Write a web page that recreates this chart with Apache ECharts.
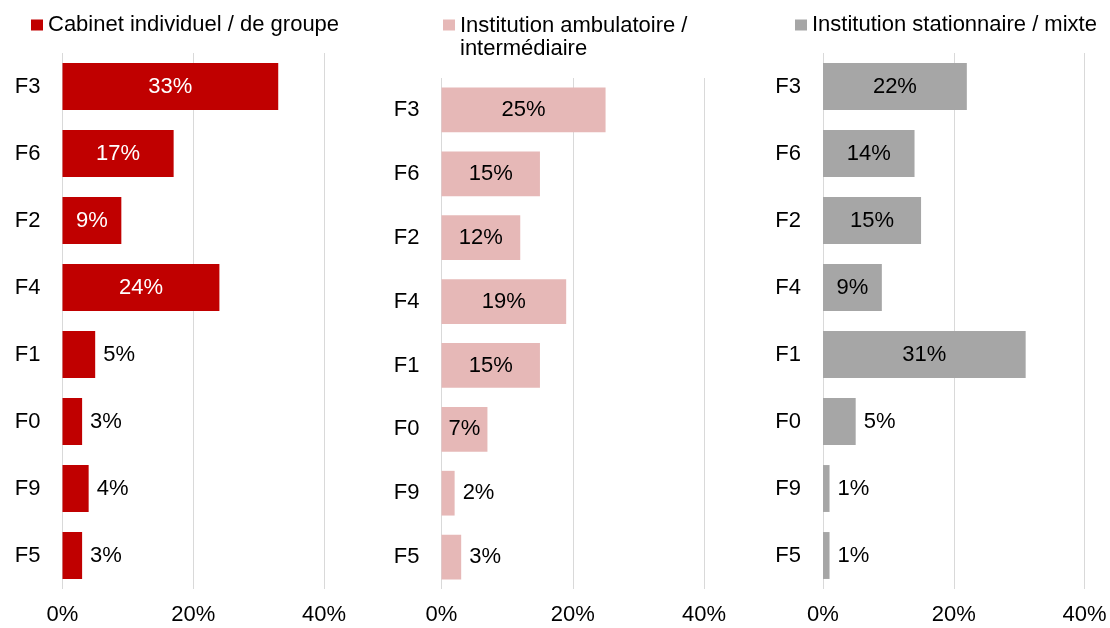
<!DOCTYPE html>
<html>
<head>
<meta charset="utf-8">
<script src="https://cdn.jsdelivr.net/npm/echarts@6/dist/echarts.min.js"></script>
<style>
  html, body { margin: 0; padding: 0; background: #fff; }
  #chart { width: 1110px; height: 628px; }
</style>
</head>
<body>
<div id="chart"></div>
<script>
// categories, top to bottom
const categories = ["F3", "F6", "F2", "F4", "F1", "F0", "F9", "F5"];
const xTicks = [0, 20, 40];

// shares in %
const cabinet = [33, 17, 9, 24, 5, 3, 4, 3];
const ambulatoire = [25, 15, 12, 19, 15, 7, 2, 3];
const stationnaire = [22, 14, 15, 9, 31, 5, 1, 1];

const seriesNames = [
  "Cabinet individuel / de groupe",
  "Institution ambulatoire / intermédiaire",
  "Institution stationnaire / mixte",
];
const colors = ["#c00000", "#e6b8b7", "#a6a6a6"];
const insideLabelColors = ["#ffffff", "#000000", "#000000"];

const FONT = "Liberation Sans, Arial, sans-serif";
const FS = 22;

const grids = [
  { left: 62.5, width: 261.5, top: 53, bottom: 39 },
  { left: 441.5, width: 262.5, top: 78, bottom: 39 },
  { left: 823, width: 261.5, top: 53, bottom: 39 },
];
const legendLefts = [31, 443, 795];

const values = [cabinet, ambulatoire, stationnaire];

const chart = echarts.init(document.getElementById("chart"));

// the middle legend wraps on two lines, its square stays on the first line
const legends = seriesNames.map((name, i) => {
  const twoLines = i === 1;
  return {
    data: [name],
    left: legendLefts[i],
    top: twoLines ? 14 : 13,
    padding: 0,
    icon: twoLines ? "path://M0,0h12v11h-12z M0,36" : "rect",
    itemWidth: 12,
    itemHeight: twoLines ? 36 : 11,
    formatter: (n) => (twoLines ? "Institution ambulatoire /\nintermédiaire" : n),
    textStyle: { fontFamily: FONT, fontSize: FS, color: "#000", lineHeight: twoLines ? 23.5 : 24 },
  };
});

const option = {
  animation: false,
  textStyle: { fontFamily: FONT },
  grid: grids,
  legend: legends,
  xAxis: grids.map((g, i) => ({
    type: "value",
    gridIndex: i,
    min: xTicks[0],
    max: xTicks[xTicks.length - 1],
    interval: xTicks[1] - xTicks[0],
    axisLine: { show: false },
    axisTick: { show: false },
    splitLine: { lineStyle: { color: "#d9d9d9", width: 1 } },
    axisLabel: {
      formatter: "{value}%",
      fontFamily: FONT,
      fontSize: FS,
      color: "#000",
      margin: 15,
    },
  })),
  yAxis: grids.map((g, i) => ({
    type: "category",
    gridIndex: i,
    data: categories,
    inverse: true,
    axisLine: { show: false },
    axisTick: { show: false },
    axisLabel: { fontFamily: FONT, fontSize: FS, color: "#000", margin: 22 },
  })),
  series: values.map((vals, i) => ({
    name: seriesNames[i],
    type: "bar",
    xAxisIndex: i,
    yAxisIndex: i,
    barCategoryGap: "30%",
    itemStyle: { color: colors[i] },
    data: vals.map((v) => ({
      value: v,
      label: {
        show: true,
        position: v >= 7 ? "inside" : "right",
        distance: 8,
        color: v >= 7 ? insideLabelColors[i] : "#000",
        fontFamily: FONT,
        fontSize: FS,
        formatter: "{c}%",
      },
    })),
  })),
};

chart.setOption(option);
</script>
</body>
</html>
